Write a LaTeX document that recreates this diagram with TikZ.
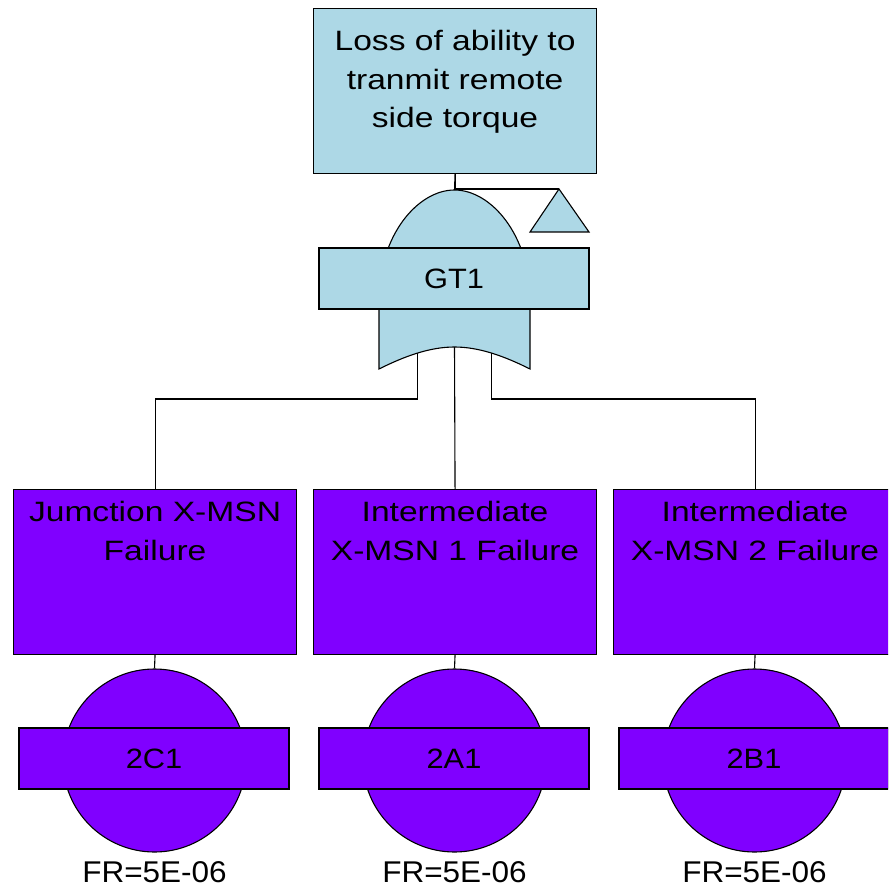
\documentclass[tikz,border=0pt]{standalone}
\usepackage{fontspec}
\setmainfont{Liberation Sans}
\newfontfamily\boxfont[FakeStretch=1.2]{Liberation Sans}
\newfontfamily\lblfont[FakeStretch=1.1]{Liberation Sans}
\newfontfamily\frfont[FakeStretch=1.05]{Liberation Sans}
\definecolor{gateblue}{HTML}{ADD8E6}
\definecolor{evpurple}{HTML}{8000FF}
\begin{document}
\begin{tikzpicture}[x=1pt,y=-1pt,line width=1.1pt,
  eventbox/.style={draw=black,minimum width=283pt,minimum height=165pt,inner sep=0pt,anchor=north west},
  boxtext/.style={align=center,inner sep=0pt,anchor=north,font=\boxfont\fontsize{28}{38.5}\selectfont},
  bandbox/.style={draw=black,minimum width=270pt,minimum height=61pt,inner sep=0pt,font=\lblfont\fontsize{28}{34}\selectfont},
  basiccirc/.style={circle,draw=black,fill=evpurple,minimum size=183pt,inner sep=0pt},
  frlabel/.style={anchor=base,inner sep=0pt,font=\frfont\fontsize{30}{36}\selectfont}]
\useasboundingbox (0,0) rectangle (888,893);
\clip (0,0) rectangle (888,893);

% top event
\node[eventbox,fill=gateblue] (top) at (313,8) {};
\node[boxtext] (toptext) at ([yshift=-22pt]top.north) {Loss of ability to\\tranmit remote\\side torque};

% OR gate
\draw[fill=gateblue] (379,369) -- (379,300) .. controls (379,235) and (418,190) .. (454.5,190)
  .. controls (491,190) and (530,235) .. (530,300) -- (530,369)
  .. controls (504,356) and (479,347) .. (454.5,347)
  .. controls (430,347) and (405,356) .. (379,369) -- cycle;
\coordinate (gapex) at (454.5,190);
\coordinate (gc) at (454.5,347);
\coordinate (gl) at (417.5,353);
\coordinate (gr) at (491.5,353);
\node[bandbox,fill=gateblue] (gt1) at (454,278.5) {GT1};

% transfer triangle
\coordinate (triapex) at (559,189);
\draw[fill=gateblue] (triapex) -- (589,232) -- (530,232) -- cycle;
\draw (top.south) -- (gapex);
\draw (top.south) |- (triapex);

% intermediate events
\node[eventbox,fill=evpurple] (e1) at (13,489) {};
\node[eventbox,fill=evpurple] (e2) at (313,489) {};
\node[eventbox,fill=evpurple] (e3) at (613,489) {};
\node[boxtext] (t1) at ([yshift=-12pt]e1.north) {Jumction X-MSN\\Failure};
\node[boxtext] (t2) at ([yshift=-12pt]e2.north) {Intermediate\\X-MSN 1 Failure};
\node[boxtext] (t3) at ([yshift=-12pt]e3.north) {Intermediate\\X-MSN 2 Failure};

% connectors gate -> events
\draw (gc) -- (e2.north);
\draw (gl) -- ++(0,46) -| (e1.north);
\draw (gr) -- ++(0,46) -| (e3.north);

% basic events
\node[basiccirc] (c1) at (154.5,760.5) {};
\node[basiccirc] (c2) at (454.5,760.5) {};
\node[basiccirc] (c3) at (754.5,760.5) {};
\node[bandbox,fill=evpurple] (b1) at (154,758.5) {2C1};
\node[bandbox,fill=evpurple] (b2) at (454,758.5) {2A1};
\node[bandbox,fill=evpurple] (b3) at (754,758.5) {2B1};
\draw (e1.south) -- (c1.north);
\draw (e2.south) -- (c2.north);
\draw (e3.south) -- (c3.north);

\node[frlabel] (fr1) at (154.5,882) {FR=5E-06};
\node[frlabel] (fr2) at (454.5,882) {FR=5E-06};
\node[frlabel] (fr3) at (754.5,882) {FR=5E-06};
\end{tikzpicture}
\end{document}
